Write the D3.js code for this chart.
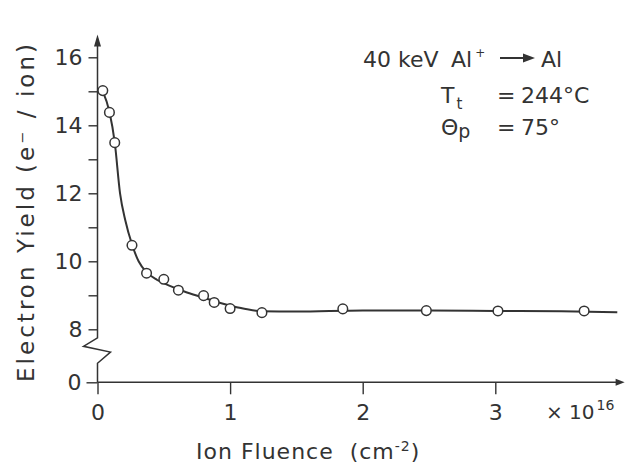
<!DOCTYPE html>
<html>
<head>
<meta charset="utf-8">
<script src="https://cdn.jsdelivr.net/npm/d3@7"></script>
<style>
  body { margin: 0; background: #fff; }
  text { font-family: "DejaVu Sans", sans-serif; fill: #333; }
</style>
</head>
<body>
<script>
// measured points (fluence in 1e16 cm^-2, yield in e-/ion)
var fluence = [0.04, 0.09, 0.13, 0.26, 0.37, 0.50, 0.61, 0.80, 0.88, 1.00, 1.24, 1.85, 2.48, 3.02, 3.67];
var yieldVals = [15.02, 14.38, 13.49, 10.47, 9.65, 9.47, 9.15, 8.99, 8.79, 8.61, 8.49, 8.60, 8.55, 8.54, 8.54];

// hand drawn fit line through the points
var fitX = [0.04, 0.09, 0.13, 0.17, 0.21, 0.26, 0.31, 0.37, 0.45, 0.55, 0.65, 0.80, 0.92, 1.05, 1.24, 1.5, 2.0, 2.5, 3.0, 3.5, 3.92];
var fitY = [15.0, 14.4, 13.5, 12.0, 11.2, 10.5, 10.0, 9.68, 9.45, 9.27, 9.12, 8.93, 8.78, 8.65, 8.53, 8.52, 8.55, 8.55, 8.54, 8.53, 8.50];

var xTicks = [0, 1, 2, 3];
var yTicks = [8, 9, 10, 11, 12, 13, 14, 15, 16];

var width = 627, height = 469;
var ink = "#333";

var svg = d3.select("body").append("svg")
    .attr("width", width)
    .attr("height", height);

// scales
var x = d3.scaleLinear().domain([0, 4]).range([97.5, 627.9]);
var yUp = d3.scaleLinear().domain([8, 16]).range([329.3, 57.3]);
var yLow = d3.scaleLinear().domain([0, 1]).range([382.3, 348.3]);

// y axis ticks (upper part)
var yAxis = svg.append("g")
    .attr("transform", "translate(" + x(0) + ",0)")
    .call(d3.axisLeft(yUp).tickValues(yTicks).tickSize(9).tickPadding(6)
        .tickFormat(function(d) { return d % 2 === 0 ? d : ""; }));
yAxis.select(".domain").remove();

// zero tick on the lower part
var yAxis0 = svg.append("g")
    .attr("transform", "translate(" + x(0) + ",0)")
    .call(d3.axisLeft(yLow).tickValues([0]).tickSize(11).tickPadding(5).tickFormat(d3.format("d")));
yAxis0.select(".domain").remove();

// x axis
var xAxis = svg.append("g")
    .attr("transform", "translate(0," + yLow(0) + ")")
    .call(d3.axisBottom(x).tickValues(xTicks).tickSize(12).tickPadding(7).tickFormat(d3.format("d")));
xAxis.select(".domain").remove();

svg.selectAll(".tick line").attr("stroke", ink).attr("stroke-width", 1.4);
svg.selectAll(".tick text").style("font-size", "22px").attr("fill", ink);
xAxis.selectAll(".tick text").attr("dy", "0.85em");

// axis lines with break
var x0 = x(0);
var topY = yUp(16.55);
svg.append("path")
    .attr("d", "M" + x0 + "," + topY + "L" + x0 + "," + yUp(7.75) +
        "L" + (x0 - 14) + "," + yUp(7.5) +
        "L" + (x0 + 13) + "," + yUp(7.33) +
        "L" + x0 + "," + yUp(7.0) +
        "L" + x0 + "," + yLow(0))
    .attr("fill", "none").attr("stroke", ink).attr("stroke-width", 1.5);

svg.append("path")
    .attr("d", "M" + x0 + "," + yLow(0) + "L" + x(3.93) + "," + yLow(0))
    .attr("stroke", ink).attr("stroke-width", 1.5);

// arrow heads
svg.append("path")
    .attr("d", "M" + x0 + "," + (topY - 4) + "l-3.5,12l7,0z")
    .attr("fill", ink);
svg.append("path")
    .attr("d", "M" + (x(3.93) + 6) + "," + yLow(0) + "l-9,-3.5l0,7z")
    .attr("fill", ink);

// fit curve
var line = d3.line()
    .x(function(d) { return x(d[0]); })
    .y(function(d) { return yUp(d[1]); })
    .curve(d3.curveMonotoneX);

svg.append("path")
    .datum(d3.zip(fitX, fitY))
    .attr("d", line)
    .attr("fill", "none")
    .attr("stroke", ink)
    .attr("stroke-width", 2);

// data circles
svg.selectAll(".pt")
    .data(d3.zip(fluence, yieldVals))
    .enter()
    .append("circle")
        .attr("class", "pt")
        .attr("cx", function(d) { return x(d[0]); })
        .attr("cy", function(d) { return yUp(d[1]); })
        .attr("r", 4.8)
        .attr("fill", "#fff")
        .attr("stroke", ink)
        .attr("stroke-width", 1.5);

// x multiplier
var mult = svg.append("text")
    .attr("x", 546).attr("y", 419)
    .style("font-size", "20px");
mult.append("tspan").text("× 10");
mult.append("tspan").attr("dy", -9).attr("dx", 2).style("font-size", "14px").text("16");

// axis titles
svg.append("text")
    .attr("transform", "translate(34,213) rotate(-90)")
    .attr("text-anchor", "middle")
    .attr("textLength", 338)
    .attr("lengthAdjust", "spacing")
    .style("font-size", "23px")
    .text("Electron  Yield  (e⁻ / ion)");

var xl = svg.append("text")
    .attr("x", 196).attr("y", 459)
    .style("font-size", "22px")
    .style("letter-spacing", "1px")
    .style("white-space", "pre");
xl.append("tspan").text("Ion Fluence  (cm");
xl.append("tspan").attr("dy", -8).style("font-size", "14px").text("-2");
xl.append("tspan").attr("dy", 8).text(")");

// annotation
svg.append("text").attr("x", 363).attr("y", 67).style("font-size", "22px").text("40 keV");
var al = svg.append("text").attr("x", 451).attr("y", 67).style("font-size", "22px");
al.append("tspan").text("Al");
al.append("tspan").attr("dy", -10).attr("dx", 3).style("font-size", "12px").text("+");
svg.append("line")
    .attr("x1", 500).attr("x2", 526).attr("y1", 58).attr("y2", 58)
    .attr("stroke", ink).attr("stroke-width", 2);
svg.append("path").attr("d", "M535,58l-12,-4.5l0,9z").attr("fill", ink);
svg.append("text").attr("x", 541).attr("y", 67).style("font-size", "22px").text("Al");

var t2 = svg.append("text").attr("x", 441).attr("y", 103).style("font-size", "22px");
t2.append("tspan").text("T");
t2.append("tspan").attr("dy", 6).attr("dx", 2).style("font-size", "15px").text("t");
t2.append("tspan").attr("x", 497).attr("dy", -6).text("=");
t2.append("tspan").attr("x", 521).text("244°C");

var t3 = svg.append("text").attr("x", 441).attr("y", 135).style("font-size", "22px");
t3.append("tspan").text("Θ");
t3.append("tspan").attr("dy", 3).style("font-size", "19px").text("p");
t3.append("tspan").attr("x", 497).attr("dy", -3).text("=");
t3.append("tspan").attr("x", 521).text("75°");
</script>
</body>
</html>
